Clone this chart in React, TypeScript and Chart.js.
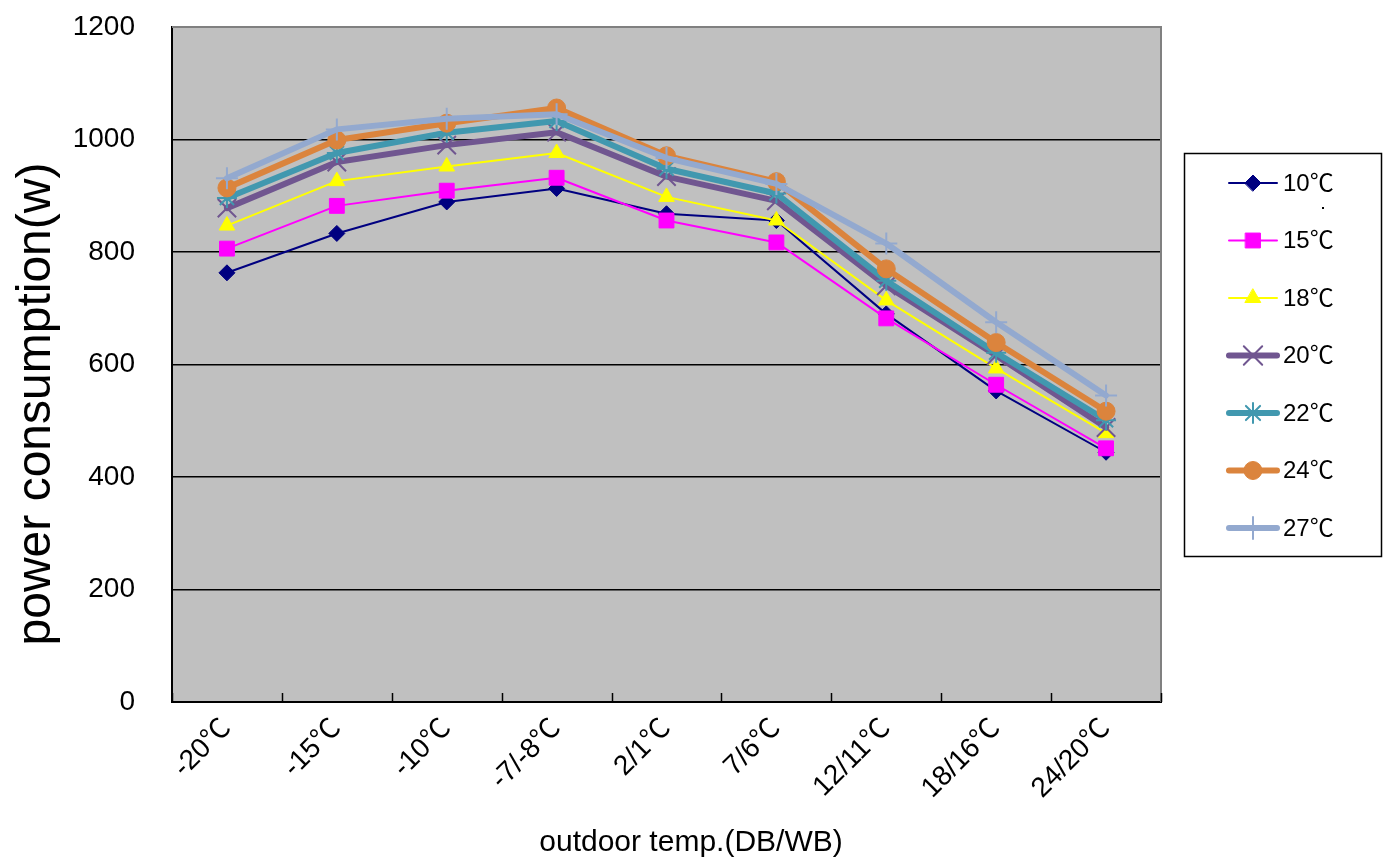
import React, { useEffect, useRef } from "react";
import { Chart, registerables } from "chart.js";
import { drawPoint } from "chart.js/helpers";

Chart.register(...registerables);

const categories = ["-20℃", "-15℃", "-10℃", "-7/-8℃", "2/1℃", "7/6℃", "12/11℃", "18/16℃", "24/20℃"];
const seriesNames = ["10℃", "15℃", "18℃", "20℃", "22℃", "24℃", "27℃"];
const t10 = [763, 833, 889, 913, 868, 856, 690, 553, 444];
const t15 = [806, 882, 909, 932, 856, 817, 682, 564, 451];
const t18 = [847, 926, 952, 976, 898, 856, 714, 593, 478];
const t20 = [878, 960, 990, 1013, 934, 891, 740, 616, 488];
const t22 = [896, 976, 1012, 1033, 948, 904, 749, 621, 501];
const t24 = [914, 999, 1029, 1056, 971, 925, 770, 639, 517];
const t27 = [931, 1018, 1037, 1045, 967, 921, 815, 675, 545];
const yTicks = [0, 200, 400, 600, 800, 1000, 1200];
const xTitle = "outdoor temp.(DB/WB)";
const yTitle = "power consumption(w)";

const FONT = 'Arial, "Liberation Sans", "Noto Sans CJK SC", sans-serif';

const styles = [
  { color: "#000080", width: 2, pointStyle: "rectRot", radius: 8, bw: 1 },
  { color: "#FF00FF", width: 2, pointStyle: "rect", radius: 10.5, bw: 1 },
  { color: "#FFFF00", width: 2, pointStyle: "triangle", radius: 9, bw: 1 },
  { color: "#705690", width: 6, pointStyle: "crossRot", radius: 13, bw: 2 },
  { color: "#4198AF", width: 6, pointStyle: "star", radius: 10, bw: 2 },
  { color: "#DB843D", width: 6, pointStyle: "circle", radius: 9, bw: 1 },
  { color: "#93A9CF", width: 6, pointStyle: "cross", radius: 11, bw: 2 },
];

const seriesValues = [t10, t15, t18, t20, t22, t24, t27];

const decorPlugin = {
  id: "decor",
  beforeDraw(chart: any) {
    const { ctx, chartArea: a } = chart;
    ctx.save();
    ctx.fillStyle = "#C0C0C0";
    ctx.fillRect(a.left, a.top, a.right - a.left, a.bottom - a.top);
    ctx.restore();
  },
  afterDraw(chart: any) {
    const { ctx, chartArea: a } = chart;
    const xs = chart.scales.x;
    ctx.save();
    ctx.strokeStyle = "#808080";
    ctx.lineWidth = 2;
    ctx.beginPath();
    ctx.moveTo(a.left, a.top);
    ctx.lineTo(a.right, a.top);
    ctx.lineTo(a.right, a.bottom);
    ctx.stroke();
    ctx.strokeStyle = "#000";
    ctx.lineWidth = 1.5;
    ctx.beginPath();
    for (let i = 0; i <= categories.length; i++) {
      const x = Math.round(xs.getPixelForValue(i - 0.5)) + 0.5;
      ctx.moveTo(x, a.bottom);
      ctx.lineTo(x, a.bottom - 9);
    }
    ctx.stroke();
    ctx.fillStyle = "#000";
    ctx.font = `30px ${FONT}`;
    ctx.textAlign = "center";
    ctx.textBaseline = "middle";
    ctx.fillText(xTitle, 691, 843);
    ctx.save();
    ctx.translate(37, 404);
    ctx.rotate(-Math.PI / 2);
    ctx.font = `48px ${FONT}`;
    ctx.fillText(yTitle, 0, 0);
    ctx.restore();
    const lx = 1184.5, ly = 153.5, lw = 197, lh = 403;
    ctx.fillStyle = "#fff";
    ctx.fillRect(lx, ly, lw, lh);
    ctx.strokeStyle = "#000";
    ctx.lineWidth = 1.5;
    ctx.strokeRect(lx, ly, lw, lh);
    seriesNames.forEach((name, i) => {
      const s = styles[i];
      const y = 183 + i * 57.5;
      ctx.strokeStyle = s.color;
      ctx.lineWidth = s.width;
      ctx.lineCap = "round";
      ctx.beginPath();
      ctx.moveTo(1229, y);
      ctx.lineTo(1277, y);
      ctx.stroke();
      ctx.fillStyle = s.color;
      ctx.strokeStyle = s.color;
      ctx.lineWidth = s.bw;
      drawPoint(ctx, { pointStyle: s.pointStyle, radius: s.radius, rotation: 0, borderWidth: s.bw }, 1253, y);
      ctx.fillStyle = "#000";
      ctx.font = `24px ${FONT}`;
      ctx.textAlign = "left";
      ctx.textBaseline = "middle";
      ctx.fillText(name, 1283, y + 1);
    });
    ctx.fillStyle = "#000";
    ctx.fillRect(1322, 207, 2, 2);
    ctx.restore();
  },
};

export default function App() {
  const ref = useRef<HTMLCanvasElement | null>(null);
  useEffect(() => {
    if (!ref.current) return;
    const datasets = seriesNames.map((name, i) => {
      const s = styles[i];
      return {
        label: name,
        data: seriesValues[i],
        borderColor: s.color,
        backgroundColor: s.color,
        borderWidth: s.width,
        borderJoinStyle: "round" as const,
        borderCapStyle: "round" as const,
        pointStyle: s.pointStyle as any,
        pointRadius: s.radius,
        pointHoverRadius: s.radius,
        pointBorderWidth: s.bw,
        pointBackgroundColor: s.color,
        pointBorderColor: s.color,
        tension: 0,
        order: -i,
      };
    });
    const chart = new Chart(ref.current, {
      type: "line",
      data: { labels: categories, datasets },
      options: {
        animation: false,
        responsive: true,
        maintainAspectRatio: false,
        layout: { padding: { left: 0, top: 27, right: 225, bottom: 0 } },
        plugins: { legend: { display: false }, tooltip: { enabled: false } },
        scales: {
          x: {
            type: "category",
            offset: true,
            grid: { display: false, drawTicks: false },
            border: { display: true, color: "#000", width: 2 },
            ticks: {
              color: "#000",
              font: { size: 28, family: FONT },
              minRotation: 45,
              maxRotation: 45,
              padding: 10,
            },
            afterFit: (scale: any) => {
              scale.height = 158;
            },
          },
          y: {
            min: 0,
            max: 1200,
            afterBuildTicks: (scale: any) => {
              scale.ticks = yTicks.map((v) => ({ value: v }));
            },
            grid: {
              color: "#000",
              lineWidth: 1.5,
              drawTicks: true,
              tickLength: 33,
              tickColor: "rgba(0,0,0,0)",
            },
            border: { display: true, color: "#000", width: 2 },
            ticks: {
              color: "#000",
              font: { size: 28, family: FONT },
              padding: 4,
              callback: (v: any) => String(v),
            },
            afterFit: (scale: any) => {
              scale.width = 172;
            },
          },
        },
      },
      plugins: [decorPlugin],
    });
    return () => chart.destroy();
  }, []);
  return (
    <div style={{ position: "absolute", left: 0, top: 0, width: 1386, height: 860, background: "#fff" }}>
      <canvas ref={ref} />
    </div>
  );
}
